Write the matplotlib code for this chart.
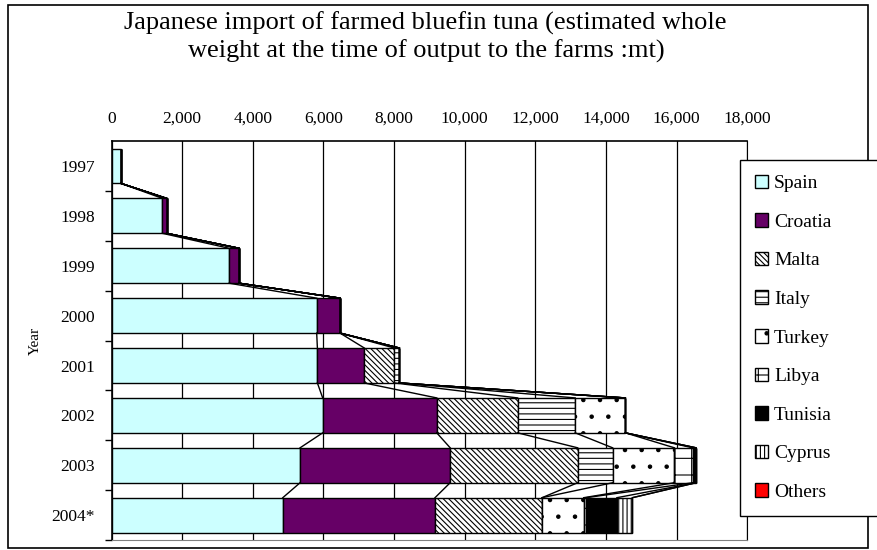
import numpy as np
import matplotlib
matplotlib.use('Agg')
import matplotlib.pyplot as plt
from matplotlib.patches import Rectangle, Patch

# Data (mt)
years = ['1997', '1998', '1999', '2000', '2001', '2002', '2003', '2004*']
countries = ['Spain', 'Croatia', 'Malta', 'Italy', 'Turkey', 'Libya', 'Tunisia', 'Cyprus', 'Others']
spain = [270, 1440, 3330, 5810, 5830, 5980, 5340, 4850]
croatia = [0, 120, 280, 660, 1330, 3230, 4250, 4310]
malta = [0, 0, 0, 0, 850, 2290, 3610, 3030]
italy = [0, 0, 0, 0, 140, 1630, 990, 0]
turkey = [0, 0, 0, 0, 0, 1420, 1750, 1180]
libya = [0, 0, 0, 0, 0, 0, 520, 70]
tunisia = [0, 0, 0, 0, 0, 0, 90, 870]
cyprus = [0, 0, 0, 0, 0, 0, 0, 440]
others = [0, 0, 0, 0, 0, 0, 0, 0]

series = [spain, croatia, malta, italy, turkey, libya, tunisia, cyprus, others]
faces = ['#CCFFFF', '#660066', 'white', 'white', 'white', 'white', 'black', 'white', 'red']
hatches = [None, None, '\\' * 6, '---', '.', '+', None, '||||', None]

plt.rcParams['font.family'] = ['Liberation Serif', 'DejaVu Serif']
plt.rcParams['hatch.linewidth'] = 0.8

fig = plt.figure(figsize=(8.78, 5.5), dpi=100)
ax = fig.add_axes([0.127, 0.018, 0.724, 0.7256])

y = np.arange(len(years))
h = 0.7
left = np.zeros(len(years))
ends = []
for vals, fc, ht in zip(series, faces, hatches):
    vals = np.array(vals, dtype=float)
    ax.barh(y, vals, height=h, left=left, color=fc, edgecolor='black',
            linewidth=1.0, hatch=ht, zorder=3)
    left = left + vals
    ends.append(left.copy())

# series lines between consecutive bars
for e in ends:
    for i in range(len(years) - 1):
        ax.plot([e[i], e[i + 1]], [y[i] + h / 2, y[i + 1] - h / 2],
                color='black', linewidth=1.0, zorder=4)

ax.set_xlim(0, 18000)
ax.set_ylim(len(years) - 0.5, -0.5)
ax.xaxis.tick_top()
ax.set_xticks(np.arange(0, 18001, 2000))
ax.set_xticklabels([f'{v:,}' for v in range(0, 18001, 2000)], fontsize=12.5)
ax.tick_params(axis='x', length=0, pad=10)
ax.set_yticks(y)
ax.set_yticklabels(years, fontsize=12.5)
ax.set_yticks(np.arange(len(years)) + 0.5, minor=True)
ax.tick_params(axis='y', which='major', length=0, pad=12)
ax.tick_params(axis='y', which='minor', length=5, width=1, direction='out')
ax.grid(axis='x', color='black', linewidth=0.9, zorder=0)
ax.set_axisbelow(True)
for s in ['top', 'left']:
    ax.spines[s].set_color('black')
    ax.spines[s].set_linewidth(1.2)
ax.spines['bottom'].set_color('#808080')
ax.spines['right'].set_color('black')
ax.set_ylabel('Year', fontsize=11, labelpad=7)

fig.text(0.484, 0.957, 'Japanese import of farmed bluefin tuna (estimated whole',
         ha='center', va='center', fontsize=19)
fig.text(0.486, 0.906, 'weight at the time of output to the farms :mt)',
         ha='center', va='center', fontsize=19)

handles = [Patch(facecolor=fc, edgecolor='black', hatch=ht, linewidth=1)
           for fc, ht in zip(faces, hatches)]
leg = fig.legend(handles, countries, loc='upper left',
                 bbox_to_anchor=(740 / 878, 1 - 160 / 550, 0.3, 0.0),
                 mode='expand', fontsize=14, handlelength=0.7, handleheight=0.7,
                 handletextpad=0.3, labelspacing=1.08, borderpad=0.75,
                 fancybox=False, framealpha=1, edgecolor='black', borderaxespad=0)
leg.get_frame().set_linewidth(1.0)

# outer chart border
fig.patches.append(Rectangle((8 / 878, 2 / 550), 868 / 878 - 8 / 878, 545 / 550 - 2 / 550,
                             transform=fig.transFigure, fill=False,
                             edgecolor='black', linewidth=1.2, zorder=0))

fig.savefig('out.png', dpi=100)
